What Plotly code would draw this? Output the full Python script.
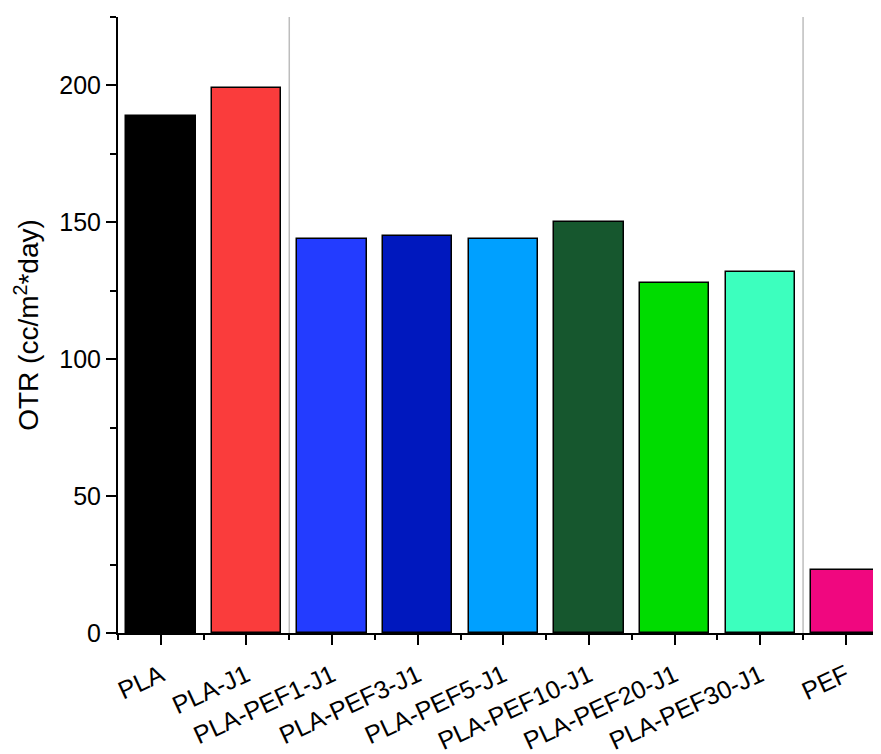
import plotly.graph_objects as go

categories = ["PLA", "PLA-J1", "PLA-PEF1-J1", "PLA-PEF3-J1", "PLA-PEF5-J1",
              "PLA-PEF10-J1", "PLA-PEF20-J1", "PLA-PEF30-J1", "PEF"]
otr_values = [189, 199, 144, 145, 144, 150, 128, 132, 23]
bar_colors = ["#000000", "#FA3C3C", "#233CFF", "#0018BE", "#00A0FF",
              "#16572E", "#00DC00", "#3CFFBE", "#F0077F"]
separators = [1.5, 7.5]
y_major_ticks = [0, 50, 100, 150, 200]

xpos = list(range(len(categories)))

fig = go.Figure()
fig.add_trace(go.Bar(
    x=xpos, y=otr_values, width=0.81,
    marker=dict(color=bar_colors, line=dict(color="#000000", width=1.5)),
))

for s in separators:
    fig.add_shape(type="line", xref="x", yref="paper", x0=s, x1=s, y0=0, y1=1,
                  line=dict(color="#BDBDBD", width=1.5), layer="below")

font_family = "Liberation Sans, Arial, sans-serif"

fig.update_layout(
    width=873, height=746,
    margin=dict(l=110, r=0, t=9, b=121),
    plot_bgcolor="white", paper_bgcolor="white",
    showlegend=False,
    bargap=0,
    font=dict(family=font_family, color="#000000"),
)

fig.update_xaxes(
    range=[-0.5, 8.41],
    automargin=False,
    tickmode="array", tickvals=xpos, ticktext=categories,
    tickangle=-25, tickfont=dict(size=25, family=font_family),
    ticklabelstandoff=6,
    ticks="outside", ticklen=10, tickwidth=2, tickcolor="#000000",
    showline=True, linecolor="#000000", linewidth=2,
    showgrid=False, zeroline=False,
    minor=dict(tickmode="array", tickvals=[i + 0.5 for i in range(-1, 9)],
               ticks="outside", ticklen=5, tickwidth=2, tickcolor="#000000",
               showgrid=False),
)

fig.update_yaxes(
    range=[0, 225],
    automargin=False,
    tickmode="array", tickvals=y_major_ticks,
    tickfont=dict(size=25, family=font_family),
    ticks="outside", ticklen=10, tickwidth=2, tickcolor="#000000",
    showline=True, linecolor="#000000", linewidth=2,
    showgrid=False, zeroline=False,
    minor=dict(tickmode="array", tickvals=[25, 75, 125, 175, 225],
               ticks="outside", ticklen=6, tickwidth=2, tickcolor="#000000",
               showgrid=False),
    title=dict(text="OTR (cc/m<sup>2</sup>*day)", font=dict(size=28, family=font_family),
               standoff=12),
)

fig.write_html("out.html")
